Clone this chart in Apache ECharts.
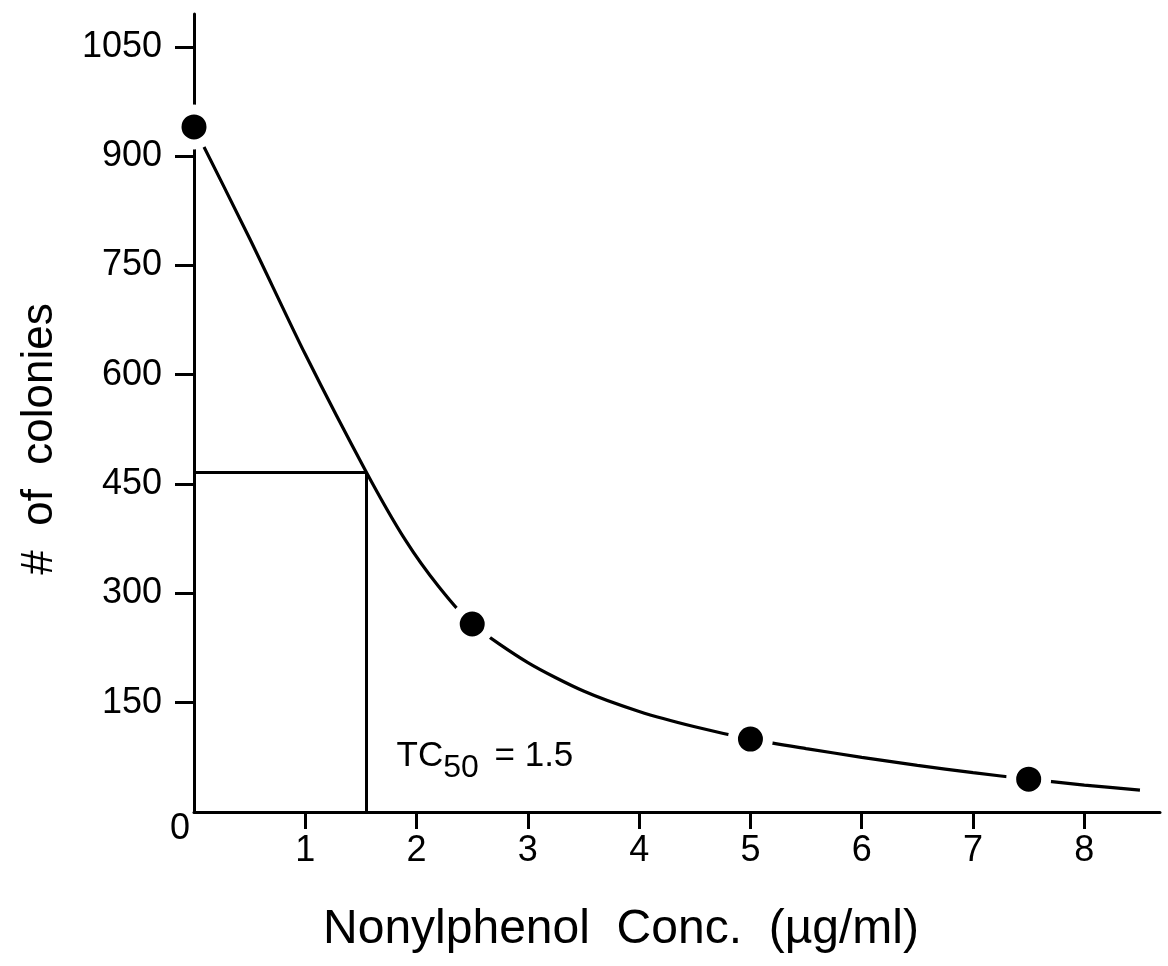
<!DOCTYPE html>
<html>
<head>
<meta charset="utf-8">
<script src="https://cdn.jsdelivr.net/npm/echarts@6/dist/echarts.min.js"></script>
<style>
html,body{margin:0;padding:0;background:#fff;}
#chart{width:1168px;height:966px;}
</style>
</head>
<body>
<div id="chart"></div>
<script>
// ---- data ----
const xTickValues = [1, 2, 3, 4, 5, 6, 7, 8];
const yTickValues = [150, 300, 450, 600, 750, 900, 1050];
const obsConc = [0, 2.5, 5, 7.5];
const obsColonies = [940, 258, 100, 45];
const fitConc = [0, 0.5, 1.0, 1.55, 1.9, 2.2, 2.5, 3.0, 3.5, 4.0, 4.5, 5.0, 5.5, 6.0, 6.5, 7.0, 7.5, 8.0, 8.5];
const fitColonies = [940, 787, 628, 466, 373, 309, 258, 205, 166, 138, 117, 100, 87, 75, 64, 54, 45, 37, 30];
const tc50Value = 1.55;
const tc50Colonies = 466;
const tcGuideConc = [0, tc50Value, tc50Value];
const tcGuideColonies = [tc50Colonies, tc50Colonies, 0];

const font = 'Liberation Sans';
const chart = echarts.init(document.getElementById('chart'), null, {renderer: 'canvas'});
chart.setOption({
  backgroundColor: '#ffffff',
  animation: false,
  grid: {left: 194, right: 8, top: 14, bottom: 154, containLabel: false, outerBoundsMode: 'none'},
  xAxis: {
    type: 'value', min: 0, max: 8.68,
    name: 'Nonylphenol  Conc.  (µg/ml)', nameLocation: 'middle', nameGap: 94,
    nameTextStyle: {fontFamily: font, fontSize: 48, color: '#000', padding: [0, 112, 0, 0]},
    axisLine: {show: true, lineStyle: {color: '#000', width: 3}},
    axisTick: {show: true, inside: false, length: 17, lineStyle: {color: '#000', width: 3}, customValues: xTickValues},
    axisLabel: {fontFamily: font, fontSize: 36, color: '#000', margin: 21, customValues: xTickValues,
      formatter: v => String(v)},
    splitLine: {show: false}
  },
  yAxis: {
    type: 'value', min: 0, max: 1095,
    name: '#  of  colonies', nameLocation: 'middle', nameGap: 132, nameRotate: 90,
    nameTextStyle: {fontFamily: font, fontSize: 44, color: '#000', padding: [0, 52, 0, 0]},
    axisLine: {show: true, lineStyle: {color: '#000', width: 3}},
    axisTick: {show: true, inside: false, length: 19, lineStyle: {color: '#000', width: 3}, customValues: yTickValues},
    axisLabel: {fontFamily: font, fontSize: 36, color: '#000', margin: 32, customValues: yTickValues,
      formatter: v => String(v)},
    splitLine: {show: false}
  },
  series: [
    {
      type: 'line', name: 'TC50 guide', silent: true,
      data: tcGuideConc.map((x, i) => [x, tcGuideColonies[i]]),
      showSymbol: false, symbol: 'none',
      lineStyle: {color: '#000', width: 3},
      markPoint: {
        symbol: 'circle', symbolSize: 0,
        data: [
          {coord: [1.82, 76], label: {show: true, position: 'right', distance: 0,
            formatter: '{a|TC}{b|50}{a| = 1.5}',
            rich: {
              a: {fontFamily: font, fontSize: 35, color: '#000', lineHeight: 36, verticalAlign: 'top'},
              b: {fontFamily: font, fontSize: 32, color: '#000', lineHeight: 32, verticalAlign: 'top', padding: [14, 6, 0, 0]}
            }}},
          {coord: [0, 0], label: {show: true, position: 'inside', offset: [-14, 17], formatter: '0',
            fontFamily: font, fontSize: 36, color: '#000'}}
        ]
      }
    },
    {
      type: 'line', name: 'fit', silent: true, smooth: 0.25,
      data: fitConc.map((x, i) => [x, fitColonies[i]]),
      showSymbol: false, symbol: 'none',
      lineStyle: {color: '#000', width: 3.2}
    },
    {
      type: 'scatter', name: 'observed', silent: true,
      data: obsConc.map((x, i) => [x, obsColonies[i]]),
      symbol: 'circle', symbolSize: 35,
      itemStyle: {color: '#000', borderColor: '#fff', borderWidth: 10, opacity: 1},
      z: 5
    }
  ]
});
</script>
</body>
</html>
